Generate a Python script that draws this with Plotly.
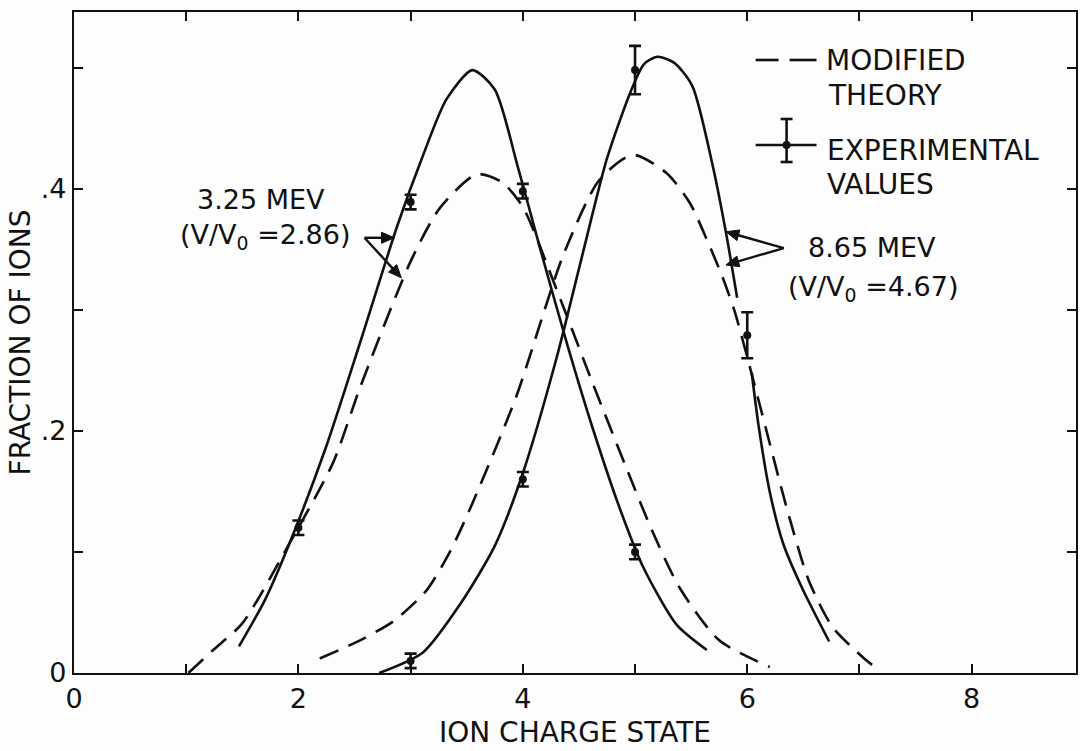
import math
import plotly.graph_objects as go

# ---------------- data ----------------
x_tick_vals = [0, 2, 4, 6, 8]
x_tick_text = ["0", "2", "4", "6", "8"]
x_minor_vals = [1, 3, 5, 7]
y_tick_vals = [0.0, 0.2, 0.4]
y_tick_text = ["0", ".2", ".4"]
y_minor_vals = [0.1, 0.3, 0.5]

# 3.25 MeV fitted (solid) curve
fit_325_x = [1.47, 1.70, 1.92, 2.24, 2.55, 2.88, 3.10, 3.32, 3.55, 3.75, 3.95, 4.15, 4.40, 4.62, 4.86, 5.07, 5.37, 5.64]
fit_325_y = [0.022, 0.060, 0.107, 0.185, 0.273, 0.369, 0.425, 0.474, 0.498, 0.482, 0.420, 0.352, 0.270, 0.203, 0.137, 0.088, 0.040, 0.019]

# 3.25 MeV modified theory (dashed)
th_325_x = [1.02, 1.24, 1.50, 1.92, 2.31, 2.55, 3.00, 3.26, 3.59, 3.82, 4.00, 4.30, 4.62, 4.92, 5.15, 5.40, 5.75, 6.20]
th_325_y = [0.000, 0.019, 0.041, 0.107, 0.174, 0.236, 0.340, 0.384, 0.412, 0.405, 0.385, 0.317, 0.240, 0.170, 0.118, 0.070, 0.027, 0.005]

# 8.65 MeV fitted (solid) curve, two pieces
fit_865a_x = [2.72, 3.11, 3.45, 3.75, 4.00, 4.30, 4.53, 4.75, 4.96, 5.08, 5.20, 5.35, 5.51, 5.69, 5.81, 5.91]
fit_865a_y = [0.000, 0.017, 0.058, 0.105, 0.165, 0.260, 0.345, 0.425, 0.480, 0.503, 0.509, 0.504, 0.485, 0.420, 0.364, 0.310]
fit_865b_x = [6.04, 6.10, 6.20, 6.32, 6.49, 6.73]
fit_865b_y = [0.248, 0.205, 0.150, 0.107, 0.070, 0.026]

# 8.65 MeV modified theory (dashed)
th_865_x = [2.19, 2.55, 2.85, 3.14, 3.35, 3.55, 3.94, 4.36, 4.68, 4.98, 5.28, 5.49, 5.64, 5.78, 5.89, 6.11, 6.35, 6.55, 6.76, 7.03, 7.15]
th_865_y = [0.012, 0.027, 0.043, 0.068, 0.100, 0.140, 0.228, 0.345, 0.407, 0.428, 0.413, 0.388, 0.358, 0.327, 0.298, 0.222, 0.137, 0.076, 0.038, 0.013, 0.004]

# Experimental values
exp_325_x = [2, 3, 4, 5]
exp_325_y = [0.120, 0.389, 0.398, 0.100]
exp_325_err = [0.006, 0.006, 0.006, 0.006]
exp_865_x = [3, 4, 5, 6]
exp_865_y = [0.010, 0.160, 0.498, 0.279]
exp_865_err = [0.006, 0.006, 0.020, 0.019]

FONT = "DejaVu Sans"
INK = "#111111"
DASH = "20px,11px"

X_RANGE = [0, 8.93]
Y_RANGE = [0, 0.546]
ML, MR, MT, MB = 74, 2, 12, 78
W, H = 1080, 751
PW, PH = W - ML - MR, H - MT - MB

fig = go.Figure()

def curve(x, y, dash=None):
    fig.add_trace(go.Scatter(
        x=x, y=y, mode="lines",
        line=dict(color=INK, width=2.6, shape="spline", smoothing=0.7, dash=dash),
        showlegend=False, hoverinfo="skip"))

curve(fit_325_x, fit_325_y)
curve(th_325_x, th_325_y, DASH)
curve(fit_865a_x, fit_865a_y)
curve(fit_865b_x, fit_865b_y)
curve(th_865_x, th_865_y, DASH)

for ex, ey, ee in [(exp_325_x, exp_325_y, exp_325_err), (exp_865_x, exp_865_y, exp_865_err)]:
    fig.add_trace(go.Scatter(
        x=ex, y=ey, mode="markers",
        marker=dict(color=INK, size=8),
        error_y=dict(type="data", array=ee, visible=True, color=INK, thickness=2.6, width=6),
        showlegend=False, hoverinfo="skip"))

# ---------------- annotations ----------------
txt = dict(font=dict(family=FONT, size=27, color=INK), showarrow=False, xref="paper", yref="paper")
txt28 = dict(font=dict(family=FONT, size=28, color=INK), showarrow=False, xref="paper", yref="paper")

def px2paper(px, py):
    return (px - ML) / PW, (MT + PH - py) / PH

ann = []
for label, (px, py) in [("3.25 MEV", (261, 199)), ("(V/V<sub>0</sub> =2.86)", (265, 236)),
                        ("8.65 MEV", (874, 247)), ("(V/V<sub>0</sub> =4.67)", (875, 288))]:
    xp, yp = px2paper(px, py)
    ann.append(dict(text=label, x=xp, y=yp, xanchor="center", yanchor="middle", **txt))

for label, (px, py) in [("MODIFIED", (825, 60)), ("THEORY", (828, 95)),
                        ("EXPERIMENTAL", (826, 150)), ("VALUES", (826, 184))]:
    xp, yp = px2paper(px, py)
    ann.append(dict(text=label, x=xp, y=yp, xanchor="left", yanchor="middle", **txt28))

shapes = []

# pointer arrows (tail -> head) drawn as shapes in data coordinates
sx = PW / (X_RANGE[1] - X_RANGE[0])
sy = PH / (Y_RANGE[1] - Y_RANGE[0])

def arrow(tail, head, L=13.0, Wd=5.5):
    tx, ty = tail
    hx, hy = head
    dx, dy = (hx - tx) * sx, -(hy - ty) * sy
    n = math.hypot(dx, dy)
    ux, uy = dx / n, dy / n
    px_, py_ = -uy, ux
    bx, by = -ux * L, -uy * L
    p1 = (hx + (bx + px_ * Wd) / sx, hy - (by + py_ * Wd) / sy)
    p2 = (hx + (bx - px_ * Wd) / sx, hy - (by - py_ * Wd) / sy)
    mid = (hx + bx * 0.5 / sx, hy - by * 0.5 / sy)
    shapes.append(dict(type="line", xref="x", yref="y", x0=tx, y0=ty, x1=mid[0], y1=mid[1],
                       line=dict(color=INK, width=2.4)))
    shapes.append(dict(type="path", xref="x", yref="y",
                       path=f"M {hx},{hy} L {p1[0]},{p1[1]} L {p2[0]},{p2[1]} Z",
                       fillcolor=INK, line=dict(color=INK, width=1)))

arrow((2.589, 0.3595), (2.856, 0.3595))
arrow((2.589, 0.3595), (2.918, 0.3264))
arrow((6.326, 0.3510), (5.810, 0.3645))
arrow((6.326, 0.3510), (5.810, 0.3370))

# legend glyphs (paper coordinates)
def pline(p1, p2, w=2.6):
    x0, y0 = px2paper(*p1)
    x1, y1 = px2paper(*p2)
    shapes.append(dict(type="line", xref="paper", yref="paper", x0=x0, y0=y0, x1=x1, y1=y1,
                       line=dict(color=INK, width=w)))

pline((757, 60), (780, 60))
pline((791, 60), (818, 60))
pline((757, 145), (818, 145))
pline((788, 119), (788, 162))
pline((782, 119), (794, 119))
pline((782, 162), (794, 162))
cx, cy = px2paper(788, 145)
shapes.append(dict(type="circle", xref="paper", yref="paper",
                   x0=cx - 4 / PW, x1=cx + 4 / PW, y0=cy - 4 / PH, y1=cy + 4 / PH,
                   fillcolor=INK, line=dict(color=INK, width=0)))

minor_x = dict(tickvals=x_minor_vals, ticks="inside", ticklen=9, tickwidth=2, tickcolor=INK, showgrid=False)
minor_y = dict(tickvals=y_minor_vals, ticks="inside", ticklen=9, tickwidth=2, tickcolor=INK, showgrid=False)

fig.update_layout(
    width=W, height=H,
    margin=dict(l=ML, r=MR, t=MT, b=MB),
    paper_bgcolor="#fdfdfd", plot_bgcolor="#fdfdfd",
    font=dict(family=FONT, size=26, color=INK),
    annotations=ann, shapes=shapes, showlegend=False,
    xaxis=dict(range=X_RANGE, tickmode="array", tickvals=x_tick_vals, ticktext=x_tick_text,
               ticks="inside", ticklen=9, tickwidth=2, tickcolor=INK, minor=minor_x,
               showline=True, linewidth=2.4, linecolor=INK, mirror="ticks",
               showgrid=False, zeroline=False,
               tickfont=dict(family=FONT, size=27, color=INK),
               title=dict(text="ION CHARGE STATE", font=dict(family=FONT, size=28, color=INK), standoff=10)),
    yaxis=dict(range=Y_RANGE, tickmode="array", tickvals=y_tick_vals, ticktext=y_tick_text,
               ticks="inside", ticklen=9, tickwidth=2, tickcolor=INK, minor=minor_y,
               showline=True, linewidth=2.4, linecolor=INK, mirror="ticks",
               showgrid=False, zeroline=False,
               tickfont=dict(family=FONT, size=27, color=INK),
               title=dict(text="FRACTION OF IONS", font=dict(family=FONT, size=28, color=INK), standoff=2)),
)

fig.write_html("out.html")
